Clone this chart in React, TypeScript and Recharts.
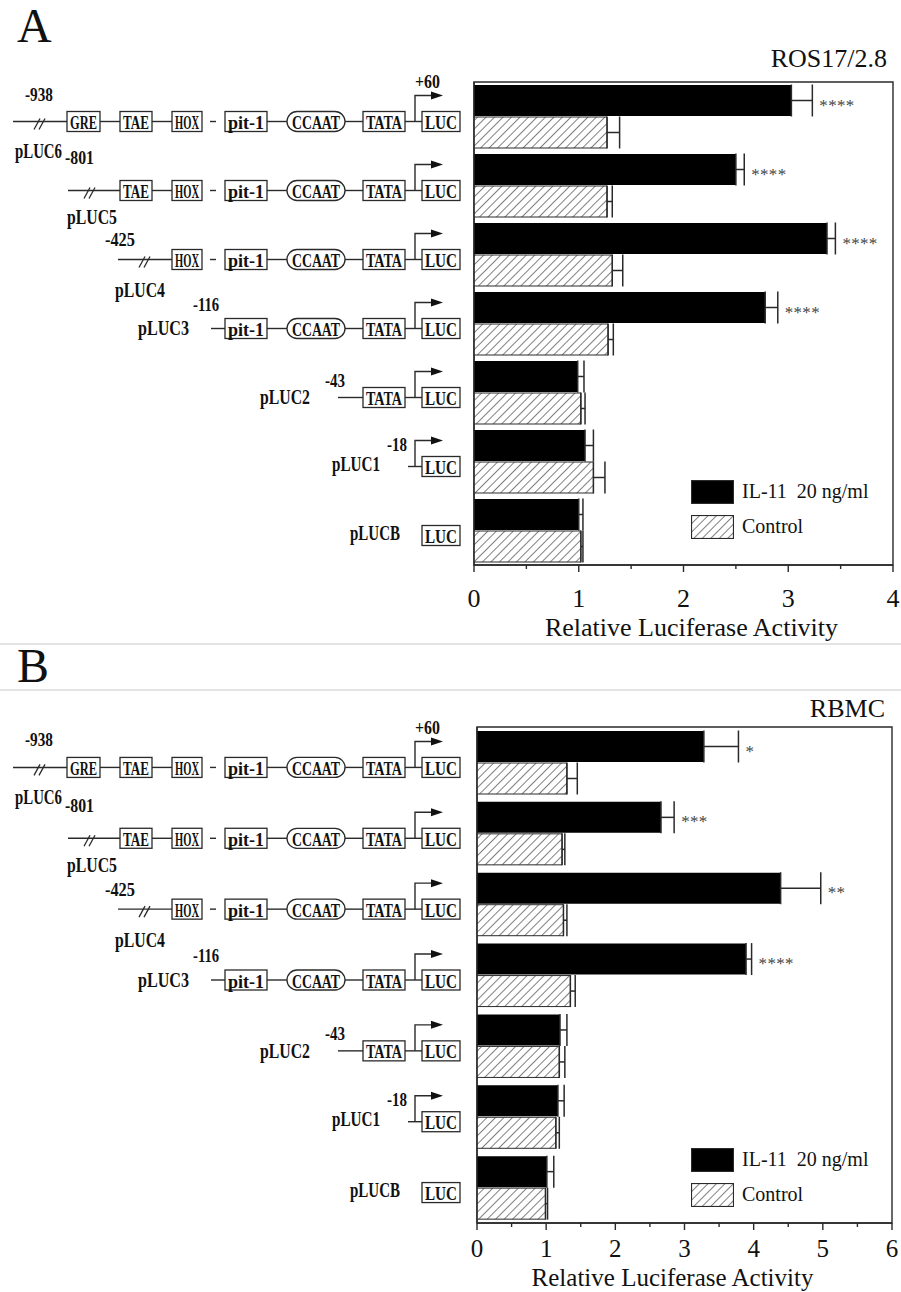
import React from "react";
import {
  BarChart,
  Bar,
  XAxis,
  YAxis,
  ErrorBar,
  LabelList,
  Legend,
  ReferenceArea,
} from "recharts";

const FONT = "'Liberation Serif', 'Times New Roman', serif";

// constructs, top to bottom
const constructs = ["pLUC6", "pLUC5", "pLUC4", "pLUC3", "pLUC2", "pLUC1", "pLUCB"];

// panel A: ROS17/2.8
const rosIL11 = [3.03, 2.5, 3.37, 2.78, 0.99, 1.06, 1.0];
const rosIL11Err = [0.2, 0.08, 0.08, 0.12, 0.06, 0.08, 0.04];
const rosControl = [1.27, 1.27, 1.32, 1.28, 1.02, 1.14, 1.02];
const rosControlErr = [0.12, 0.05, 0.1, 0.05, 0.04, 0.11, 0.02];
const rosSig = ["****", "****", "****", "****", "", "", ""];
const rosTicks = [0, 0.5, 1, 1.5, 2, 2.5, 3, 3.5, 4];

// panel B: RBMC
const rbmcIL11 = [3.28, 2.66, 4.39, 3.89, 1.2, 1.17, 1.01];
const rbmcIL11Err = [0.5, 0.19, 0.58, 0.08, 0.1, 0.09, 0.1];
const rbmcControl = [1.3, 1.23, 1.25, 1.35, 1.19, 1.14, 0.99];
const rbmcControlErr = [0.15, 0.04, 0.05, 0.07, 0.08, 0.05, 0.03];
const rbmcSig = ["*", "***", "**", "****", "", "", ""];
const rbmcTicks = [0, 0.5, 1, 1.5, 2, 2.5, 3, 3.5, 4, 4.5, 5, 5.5, 6];

const seriesNames = ["IL-11  20 ng/ml", "Control"];

function buildRows(il: number[], ilErr: number[], ctl: number[], ctlErr: number[], sig: string[]) {
  return constructs.map((name, i) => ({
    name,
    il11: il[i],
    il11Err: [0, ilErr[i]],
    control: ctl[i],
    controlErr: [0, ctlErr[i]],
    sig: sig[i],
  }));
}

// promoter element boxes (x from/to)
const BOXES: Record<string, [number, number]> = {
  GRE: [67, 100],
  TAE: [120, 152],
  HOX: [172, 202],
  "pit-1": [225, 267],
  CCAAT: [287, 345],
  TATA: [363, 405],
  LUC: [422, 460],
};

type Layout = {
  start?: number;
  brk?: number;
  parts: string[];
  name: [number, number, number];
  pos?: [string, number, number, number];
};

const LAYOUTS: Record<string, Layout> = {
  pLUC6: { start: 13, brk: 40, parts: ["GRE", "TAE", "HOX", "pit-1", "CCAAT", "TATA", "LUC"], name: [15, 30, 47], pos: ["-938", 25, -27, 28] },
  pLUC5: { start: 68, brk: 90, parts: ["TAE", "HOX", "pit-1", "CCAAT", "TATA", "LUC"], name: [67, 27, 50], pos: ["-801", 65, -33, 29] },
  pLUC4: { start: 118, brk: 145, parts: ["HOX", "pit-1", "CCAAT", "TATA", "LUC"], name: [115, 31, 50], pos: ["-425", 105, -20, 30] },
  pLUC3: { start: 211, parts: ["pit-1", "CCAAT", "TATA", "LUC"], name: [138, 0, 51], pos: ["-116", 193, -24, 27] },
  pLUC2: { start: 338, parts: ["TATA", "LUC"], name: [260, 0, 50], pos: ["-43", 325, -17, 20] },
  pLUC1: { start: 408, parts: ["LUC"], name: [332, -2, 48], pos: ["-18", 387, -22, 20] },
  pLUCB: { parts: ["LUC"], name: [350, -2, 50] },
};

const INK = "#2a2a2a";

// Times bold advance widths (per 1000 em) for the condensed labels
const BOLD_W: Record<string, number> = { p: 556, L: 667, U: 722, C: 722, B: 667, "-": 333, "+": 570 };
function natWidth(s: string, size: number) {
  let w = 0;
  for (const ch of s) w += BOLD_W[ch] ?? 500;
  return (w * size) / 1000;
}

function Condensed({ text, x, y, size, width }: { text: string; x: number; y: number; size: number; width: number }) {
  const sx = width / natWidth(text, size);
  return (
    <text transform={`translate(${x},${y}) scale(${sx.toFixed(3)},1)`} dominantBaseline="central" fontSize={size}>
      {text}
    </text>
  );
}

function ConstructTick({ y, name }: { y: number; name: string }) {
  const L = LAYOUTS[name];
  if (!L) return null;
  const cy = y + 5;
  const segs: React.ReactNode[] = [];
  if (L.start !== undefined) {
    const first = BOXES[L.parts[0]][0];
    segs.push(<line key="s" x1={L.start} y1={cy} x2={first} y2={cy} stroke={INK} strokeWidth={1.4} />);
  }
  for (let i = 0; i < L.parts.length - 1; i++) {
    const a = L.parts[i];
    const b = L.parts[i + 1];
    const x1 = BOXES[a][1];
    const x2 = BOXES[b][0];
    if (a === "HOX") {
      segs.push(<line key={"d" + i} x1={x1 + 8} y1={cy} x2={x1 + 14} y2={cy} stroke={INK} strokeWidth={1.4} />);
    } else {
      segs.push(<line key={"d" + i} x1={x1} y1={cy} x2={x2} y2={cy} stroke={INK} strokeWidth={1.4} />);
    }
  }
  const hasArrow = L.start !== undefined;
  return (
    <g fontFamily={FONT} fontWeight="bold" fill="#111">
      {segs}
      {L.brk !== undefined && (
        <g stroke={INK} strokeWidth={1.3}>
          <line x1={L.brk - 6} y1={cy + 8} x2={L.brk} y2={cy - 3} />
          <line x1={L.brk - 1} y1={cy + 8} x2={L.brk + 5} y2={cy - 3} />
        </g>
      )}
      {hasArrow && (
        <g>
          <polyline points={`415,${cy} 415,${cy - 26} 432,${cy - 26}`} fill="none" stroke={INK} strokeWidth={1.4} />
          <polygon points={`431,${cy - 30} 443,${cy - 26} 431,${cy - 22}`} fill="#111" />
        </g>
      )}
      {L.parts.map((p) => {
        const [x1, x2] = BOXES[p];
        const w = x2 - x1;
        return (
          <g key={p}>
            <rect x={x1} y={cy - 10} width={w} height={20} rx={p === "CCAAT" ? 10 : 0} fill="#fff" stroke={INK} strokeWidth={1.3} />
            <text
              x={x1 + w / 2}
              y={cy + 1}
              textAnchor="middle"
              dominantBaseline="central"
              fontSize={19}
              textLength={w - (p === "CCAAT" ? 10 : 6)}
              lengthAdjust="spacingAndGlyphs"
            >
              {p}
            </text>
          </g>
        );
      })}
      <Condensed text={name} x={L.name[0]} y={cy + L.name[1]} size={20} width={L.name[2]} />
      {L.pos && <Condensed text={L.pos[0]} x={L.pos[1]} y={cy + L.pos[2]} size={19} width={L.pos[3]} />}
      {name === "pLUC6" && <Condensed text="+60" x={415} y={cy - 40} size={19} width={25} />}
    </g>
  );
}

function XTick(props: any) {
  const { x, y, payload, labelDy, fontSize } = props;
  const major = Number.isInteger(payload.value);
  return (
    <g>
      <line x1={x} x2={x} y1={y} y2={y + (major ? 7 : 4)} stroke={INK} strokeWidth={1.4} />
      {major && (
        <text x={x} y={y + labelDy} textAnchor="middle" fontFamily={FONT} fontSize={fontSize} fill="#111">
          {payload.value}
        </text>
      )}
    </g>
  );
}

function AxisTitle(props: any, dx: number, up: number, size: number) {
  const vb = props.viewBox || {};
  return (
    <text
      x={vb.x + vb.width / 2 + dx}
      y={vb.y + vb.height - up}
      textAnchor="middle"
      fontFamily={FONT}
      fontSize={size}
      fill="#111"
    >
      Relative Luciferase Activity
    </text>
  );
}

function StarLabel(props: any, vals: number[], errs: number[]) {
  const vb = props.viewBox || props;
  const { x, y, width, height } = vb;
  const idx = props.index;
  const value = props.value;
  if (!value || idx === undefined) return null;
  const ppu = width / vals[idx];
  const end = x + width + errs[idx] * ppu;
  return (
    <text x={end + 7} y={y + height / 2 + 10} fontFamily={FONT} fontSize={17} fill="#444" letterSpacing={0.3}>
      {value}
    </text>
  );
}

function LegendBox() {
  return (
    <div style={{ fontFamily: FONT, fontSize: 20, color: "#111" }}>
      {seriesNames.map((s, i) => (
        <div key={s} style={{ display: "flex", alignItems: "center", height: 23, marginBottom: 12 }}>
          <svg width={43} height={24} style={{ marginRight: 8 }}>
            <rect x={0.5} y={0.5} width={42} height={23} fill={i === 0 ? "#000" : "url(#hatch)"} stroke={INK} strokeWidth={1.2} />
          </svg>
          <span style={{ whiteSpace: "pre" }}>{s}</span>
        </div>
      ))}
    </div>
  );
}

type PanelProps = {
  data: ReturnType<typeof buildRows>;
  il: number[];
  ilErr: number[];
  ticks: number[];
  max: number;
  height: number;
  top: number;
  right: number;
  axisWidth: number;
  xAxisHeight: number;
  labelDy: number;
  tickFont: number;
  labelDx: number;
  titleUp: number;
  titleFont: number;
  legendTop: number;
};

function Panel(p: PanelProps) {
  return (
    <BarChart
      width={901}
      height={p.height}
      data={p.data}
      layout="vertical"
      margin={{ top: p.top, right: p.right, bottom: 0, left: 0 }}
      barSize={31}
      barGap={1}
      style={{ fontFamily: FONT }}
    >
      <XAxis
        type="number"
        domain={[0, p.max]}
        ticks={p.ticks}
        allowDataOverflow
        height={p.xAxisHeight}
        tickSize={0}
        tickMargin={0}
        tickLine={false}
        axisLine={{ stroke: INK, strokeWidth: 1.4 }}
        tick={(t: any) => <XTick {...t} labelDy={p.labelDy} fontSize={p.tickFont} />}
        label={{ position: "insideBottom", content: (lp: any) => AxisTitle(lp, p.labelDx, p.titleUp, p.titleFont) }}
      />
      <YAxis
        type="category"
        dataKey="name"
        width={p.axisWidth}
        interval={0}
        tickLine={false}
        axisLine={{ stroke: INK, strokeWidth: 1.4 }}
        tick={(t: any) => <ConstructTick y={t.y} name={t.payload.value} />}
      />
      <ReferenceArea x1={0} x2={p.max} fill="none" fillOpacity={0} stroke={INK} strokeWidth={1.4} ifOverflow="visible" />
      <Bar dataKey="il11" name={seriesNames[0]} fill="#000" isAnimationActive={false}>
        <ErrorBar dataKey="il11Err" direction="x" width={16} stroke={INK} strokeWidth={1.5} />
        <LabelList dataKey="sig" content={(lp: any) => StarLabel(lp, p.il, p.ilErr)} />
      </Bar>
      <Bar dataKey="control" name={seriesNames[1]} fill="url(#hatch)" stroke={INK} strokeWidth={1} isAnimationActive={false}>
        <ErrorBar dataKey="controlErr" direction="x" width={16} stroke={INK} strokeWidth={1.5} />
      </Bar>
      <Legend
        layout="vertical"
        align="center"
        verticalAlign="middle"
        content={() => <LegendBox />}
        wrapperStyle={{ left: 691, top: p.legendTop, width: 200 }}
      />
    </BarChart>
  );
}

export default function App() {
  const rosData = buildRows(rosIL11, rosIL11Err, rosControl, rosControlErr, rosSig);
  const rbmcData = buildRows(rbmcIL11, rbmcIL11Err, rbmcControl, rbmcControlErr, rbmcSig);
  return (
    <div style={{ position: "relative", width: 901, height: 1292, background: "#fff", overflow: "hidden" }}>
      <style>{"body{margin:0}"}</style>
      <svg width={0} height={0} style={{ position: "absolute" }}>
        <defs>
          <pattern id="hatch" patternUnits="userSpaceOnUse" width={6} height={6} patternTransform="rotate(45)">
            <rect width={6} height={6} fill="#fff" />
            <line x1={0} y1={0} x2={0} y2={6} stroke="#3a3a3a" strokeWidth={1.3} />
          </pattern>
        </defs>
      </svg>
      <div style={{ position: "absolute", left: 0, top: 0 }}>
        <Panel
          data={rosData}
          il={rosIL11}
          ilErr={rosIL11Err}
          ticks={rosTicks}
          max={4}
          height={645}
          top={82}
          right={8}
          axisWidth={474}
          xAxisHeight={80}
          labelDy={42}
          tickFont={26}
          labelDx={8}
          titleUp={9}
          titleFont={26}
          legendTop={480}
        />
      </div>
      <div style={{ position: "absolute", left: 0, top: 645 }}>
        <Panel
          data={rbmcData}
          il={rbmcIL11}
          ilErr={rbmcIL11Err}
          ticks={rbmcTicks}
          max={6}
          height={647}
          top={82}
          right={9}
          axisWidth={477}
          xAxisHeight={69}
          labelDy={34}
          tickFont={25}
          labelDx={-12}
          titleUp={6}
          titleFont={25}
          legendTop={503}
        />
      </div>
      <svg width={901} height={1292} style={{ position: "absolute", left: 0, top: 0, pointerEvents: "none" }}>
        <line x1={0} y1={644} x2={901} y2={644} stroke="#e4e4e4" strokeWidth={2} />
        <line x1={0} y1={690} x2={901} y2={690} stroke="#e4e4e4" strokeWidth={2} />
        <g fontFamily={FONT} fill="#111">
          <text x={17} y={42} fontSize={48}>A</text>
          <text x={17} y={682} fontSize={48}>B</text>
          <text x={887} y={67} fontSize={26} textAnchor="end">ROS17/2.8</text>
          <text x={885} y={717} fontSize={26} textAnchor="end">RBMC</text>
        </g>
      </svg>
    </div>
  );
}
